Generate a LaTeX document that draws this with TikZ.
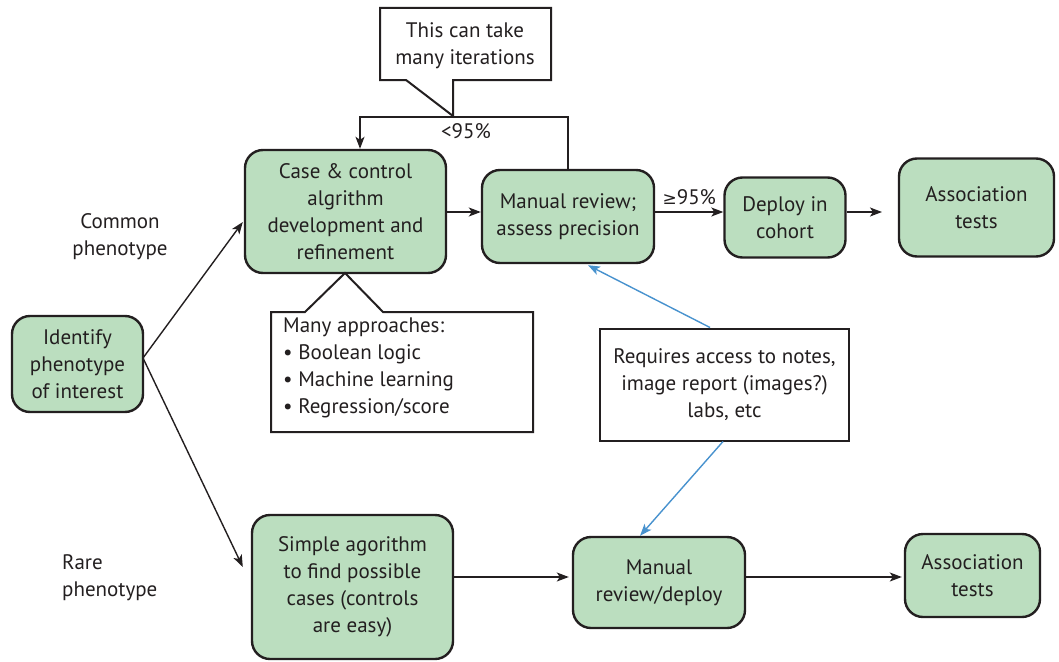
\documentclass[tikz,border=0pt]{standalone}
\usepackage{fontspec}
\setmainfont{PT Sans}
\newfontfamily\symfont{DejaVu Sans}
\usetikzlibrary{arrows.meta,calc}
\definecolor{boxg}{RGB}{187,222,191}
\definecolor{linec}{RGB}{35,31,32}
\definecolor{bluec}{RGB}{72,146,206}
\begin{document}
\begin{tikzpicture}[x=1pt,y=-1pt,
  every node/.style={font=\fontsize{21}{27}\selectfont, text=linec},
  box/.style={draw=linec, line width=2.4pt, fill=boxg, rounded corners=18pt, align=center, inner sep=0pt},
  notebox/.style={draw=linec, line width=2pt, fill=white, inner sep=0pt, align=center},
  arr/.style={-{Stealth[length=12pt,width=9pt,inset=3pt]}, line width=1.4pt, draw=linec},
  barr/.style={-{Stealth[length=12pt,width=9pt,inset=3pt]}, line width=1.4pt, draw=bluec},
  lbl/.style={align=center, inner sep=0pt}
]
\useasboundingbox (0,0) rectangle (1059,661);

% main boxes
\node[box, minimum width=131pt, minimum height=96pt] (identify) at (77.5,364) {Identify\\phenotype\\of interest};
\node[box, minimum width=201pt, minimum height=123pt] (case) at (345.5,211.5) {Case \& control\\algrithm\\development and\\refinement};
\node[box, minimum width=172pt, minimum height=93pt] (review) at (568,216.5) {Manual review;\\assess precision};
\node[box, minimum width=121pt, minimum height=80pt] (deploy) at (785,217.5) {Deploy in\\cohort};
\node[box, minimum width=155pt, minimum height=98pt] (assoc1) at (976.5,207.5) {Association\\tests};
\node[box, minimum width=201pt, minimum height=144pt] (simple) at (352.5,587) {Simple agorithm\\to find possible\\cases (controls\\are easy)};
\node[box, minimum width=172pt, minimum height=91pt] (review2) at (659,582.5) {Manual\\review/deploy};
\node[box, minimum width=135pt, minimum height=83pt] (assoc2) at (972.5,575.5) {Association\\tests};

% side labels
\node[lbl] (common) at (120,237) {Common\\phenotype};
\node[lbl, align=left, anchor=west] (rare) at (62,578) {Rare\\phenotype};

% callout: iterations
\draw[linec, line width=2pt, fill=white] (380,8) -- (551,8) -- (551,80) -- (453,80) -- (453,116) -- (406,80) -- (380,80) -- cycle;
\node[lbl] (iter) at (465,46) {This can take\\many iterations};

% callout: approaches
\draw[linec, line width=2pt, fill=white] (271,312) -- (305,312) -- (345,273) -- (383,312) -- (533,312) -- (533,432) -- (271,432) -- cycle;
\node[lbl, align=left, anchor=north west] (appr) at (283,318) {Many approaches:\\\textbullet\ Boolean logic\\\textbullet\ Machine learning\\\textbullet\ Regression/score};

% requires box
\node[notebox, minimum width=249pt, minimum height=112pt] (req) at (724.5,384.5) {Requires access to notes,\\image report (images?)\\labs, etc};

% connectors
\coordinate (idout) at (143,358);
\coordinate (row1) at (0,212);
\draw[arr] (idout) -- ($(case.west)+(-1,10.5)$);
\draw[arr] (idout) -- ($(simple.west)+(-8,-20)$);
\draw[arr] (case.east |- row1) -- (review.west |- row1);
\draw[arr] (review.east |- row1) -- node[lbl, above=7pt, pos=0.5] (ge) {{\symfont\fontsize{17}{20}\selectfont ≥}95\%} (deploy.west |- row1);
\coordinate (d2) at (882,212);
\draw[arr] (deploy.east |- d2) -- (d2);
\draw[arr] (review.north) -- ++(0,-52) -| ($(case.north)+(14.5,0)$);
\node[lbl] (lt) at (466,131) {<95\%};
\draw[arr] ($(simple.east)+(0,-10)$) -- ($(review2.west)+(-3,-5.5)$);
\draw[arr] ($(review2.east)+(0,-5.5)$) -- ($(assoc2.west)+(-2,1.5)$);
\draw[barr] ($(req.north)+(-14.5,0)$) -- ($(review.south)+(20,1)$);
\draw[barr] ($(req.south)+(-1.5,0)$) -- ($(review2.north)+(-19,0)$);
\end{tikzpicture}
\end{document}
